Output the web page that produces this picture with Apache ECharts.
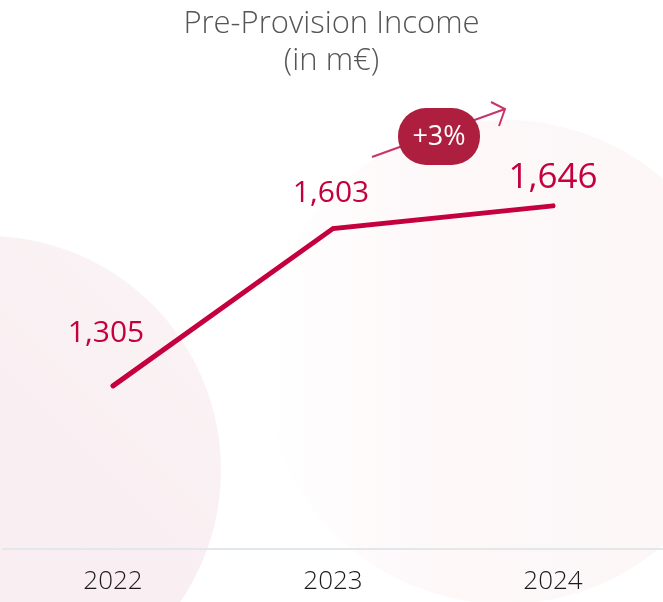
<!DOCTYPE html>
<html>
<head>
<meta charset="utf-8">
<script src="https://cdn.jsdelivr.net/npm/echarts@6/dist/echarts.min.js"></script>
<style>
html,body{margin:0;padding:0;background:#fff;}
#chart{width:663px;height:602px;}
</style>
</head>
<body>
<div id="chart"></div>
<script>
// ---- data ----
const years = ['2022', '2023', '2024'];
const incomeValues = [1305, 1603, 1646];
const labelTexts = ['1,305', '1,603', '1,646'];
const titleLines = ['Pre-Provision Income', '(in m€)'];
const changeText = '+3%';

// ---- presentation (not data) ----
const labelOffsets = [[-7, -52], [-2, -35], [0, -28]];
const labelSizes = [30, 30, 35];
const FONT = "'Open Sans', 'Noto Sans', sans-serif";
const RED = '#c4003e';

const chart = echarts.init(document.getElementById('chart'), null, {renderer: 'canvas'});

const seriesData = incomeValues.map((v, i) => ({
  value: v,
  label: {
    show: true,
    position: 'inside',
    offset: labelOffsets[i],
    formatter: labelTexts[i],
    fontSize: labelSizes[i],
    fontFamily: FONT,
    fontWeight: 500,
    color: RED
  }
}));

chart.setOption({
  animation: false,
  backgroundColor: '#ffffff',
  title: {
    text: titleLines.join('\n'),
    left: 'center',
    top: 1,
    textStyle: {
      fontFamily: FONT,
      fontWeight: 300,
      fontSize: 31,
      lineHeight: 37,
      color: '#555555'
    }
  },
  grid: {left: 3, right: 0, top: 19, bottom: 53},
  xAxis: {
    type: 'category',
    data: years,
    boundaryGap: true,
    axisLine: {show: true, lineStyle: {color: '#e2e7eb', width: 2}},
    axisTick: {show: false},
    axisLabel: {
      margin: 20,
      fontFamily: FONT,
      fontWeight: 300,
      fontSize: 26,
      color: '#1a1a1a'
    },
    splitLine: {show: false}
  },
  yAxis: {
    type: 'value',
    min: 996,
    max: 2000,
    show: false,
    splitLine: {show: false}
  },
  series: [{
    type: 'line',
    data: seriesData,
    symbol: 'circle',
    symbolSize: 4,
    showSymbol: true,
    itemStyle: {color: RED, borderWidth: 0},
    lineStyle: {color: RED, width: 5, cap: 'round', join: 'miter'},
    label: {show: true},
    z: 5
  }],
  graphic: [
    {type: 'circle', z: -20, silent: true, shape: {cx: 505, cy: 362, r: 242},
      style: {fill: new echarts.graphic.LinearGradient(0, 0, 1, 0, [
        {offset: 0, color: 'rgba(253,247,248,0)'},
        {offset: 0.35, color: 'rgba(253,247,248,0.9)'},
        {offset: 1, color: 'rgba(252,246,247,1)'}
      ])}},
    {type: 'circle', z: -10, silent: true, shape: {cx: -13, cy: 470, r: 234},
      style: {fill: new echarts.graphic.LinearGradient(0, 1, 1, 0, [
        {offset: 0, color: '#f8ecef'},
        {offset: 0.6, color: '#f9eff2'},
        {offset: 1, color: '#fbf4f6'}
      ])}},
    {type: 'polyline', z: 50, silent: true, shape: {points: [[372, 157], [505, 109]]}, style: {stroke: '#c9336a', lineWidth: 2, fill: null}},
    {type: 'polyline', z: 50, silent: true, shape: {points: [[491, 102], [505, 109], [499, 126]]}, style: {stroke: '#c9336a', lineWidth: 2, fill: null}},
    {type: 'rect', z: 60, silent: true, shape: {x: 398, y: 108, width: 82, height: 57, r: 28}, style: {fill: '#ae1f3f'}},
    {type: 'text', z: 70, silent: true, style: {text: changeText, x: 439, y: 137, align: 'center', verticalAlign: 'middle', fill: '#ffffff', fontSize: 27, fontFamily: FONT, fontWeight: 400}}
  ]
});
</script>
</body>
</html>
